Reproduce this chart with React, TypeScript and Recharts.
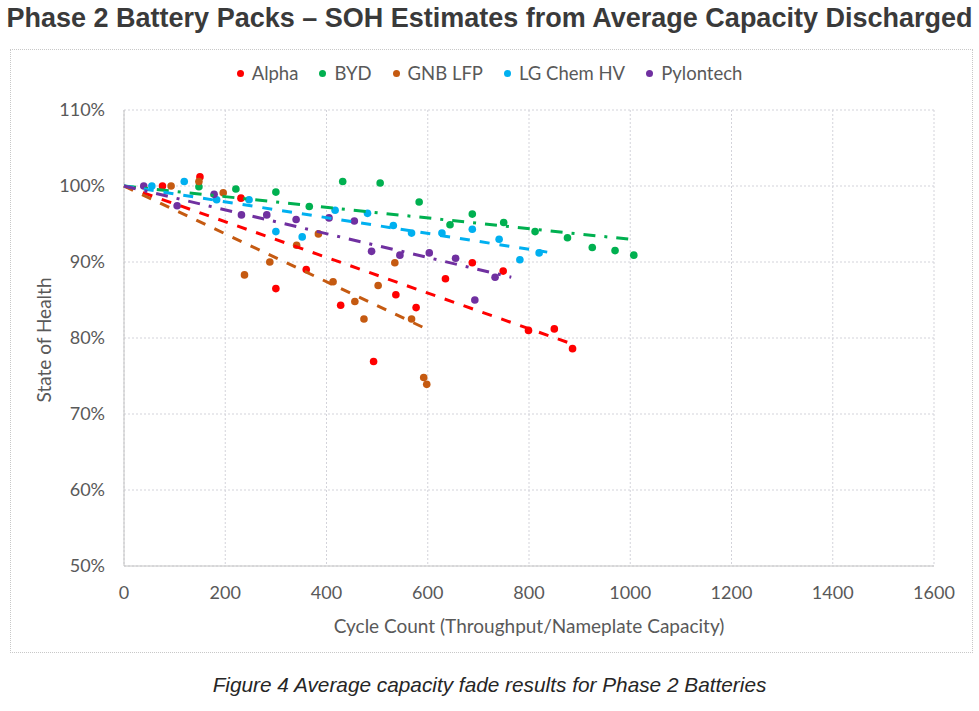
import { ScatterChart, Scatter, XAxis, YAxis, CartesianGrid } from 'recharts';

const X_TICKS = [0, 200, 400, 600, 800, 1000, 1200, 1400, 1600];
const Y_TICKS = [50, 60, 70, 80, 90, 100, 110];

const SERIES_NAMES = ['Alpha', 'BYD', 'GNB LFP', 'LG Chem HV', 'Pylontech'];
const SERIES_COLORS = ['#ff0000', '#00b050', '#c55a11', '#00b0f0', '#7030a0'];
const TREND_DASH = ['10 10', '12 9 3 9', '10 10', '10 10', '12 9 3 9'];

// cycle count / state of health (%) per pack
const alphaCycles = [76, 150, 231, 300, 360, 428, 493, 537, 577, 635, 688, 749, 799, 850, 886];
const alphaSoh = [100, 101.2, 98.4, 86.5, 89.0, 84.3, 76.9, 85.7, 84.0, 87.8, 89.9, 88.8, 81.0, 81.2, 78.6];

const bydCycles = [148, 221, 300, 366, 432, 506, 583, 644, 688, 750, 812, 876, 925, 970, 1007];
const bydSoh = [99.9, 99.6, 99.2, 97.3, 100.6, 100.4, 97.9, 94.9, 96.3, 95.2, 94.0, 93.2, 91.9, 91.5, 90.9];

const gnbCycles = [93, 148, 196, 238, 288, 341, 384, 413, 456, 474, 502, 535, 568, 592, 598];
const gnbSoh = [100, 100.6, 99.1, 88.3, 90.0, 92.2, 93.7, 87.4, 84.8, 82.5, 86.9, 89.9, 82.5, 74.8, 73.9];

const lgCycles = [55, 119, 183, 247, 300, 352, 417, 481, 532, 568, 628, 688, 741, 782, 820];
const lgSoh = [100, 100.6, 98.2, 98.2, 94.0, 93.3, 96.8, 96.4, 94.8, 93.8, 93.8, 94.3, 93.0, 90.3, 91.2];

const pylonCycles = [39, 105, 178, 232, 282, 340, 405, 455, 489, 545, 603, 655, 693, 733];
const pylonSoh = [100, 97.4, 98.9, 96.2, 96.2, 95.6, 95.8, 95.4, 91.4, 90.9, 91.2, 90.5, 85.0, 88.0];

// linear trendlines: all start at 0 cycles / 100 %
const trendStartCycle = 0;
const trendStartSoh = 100;
const trendEndCycles = [886, 1012, 594, 836, 765];
const trendEndSoh = [79.2, 92.9, 81.3, 91.3, 88.0];

const ALL_CYCLES = [alphaCycles, bydCycles, gnbCycles, lgCycles, pylonCycles];
const ALL_SOH = [alphaSoh, bydSoh, gnbSoh, lgSoh, pylonSoh];

const FONT = 'Lato, "Open Sans", sans-serif';
const TEXT_GREY = '#595959';

const toPoints = (xs: number[], ys: number[]) => xs.map((x, i) => ({ x, y: ys[i] }));

const makeDot = (color: string) => (props: any) => (
    <circle cx={props.cx} cy={props.cy} r={3.8} fill={color} />
);

const NoShape = () => <g />;

export default function App() {
    return (
        <div style={{ position: 'absolute', left: 0, top: 0, width: 979, height: 711, background: '#fff', fontFamily: FONT }}>
            {/* Title */}
            <div style={{
                position: 'absolute', left: 0, top: 3, width: 979, textAlign: 'center',
                fontFamily: '"Liberation Sans", Arial, sans-serif', fontWeight: 700, fontSize: 27,
                color: '#3a3a3a', whiteSpace: 'nowrap'
            }}>
                Phase 2 Battery Packs – SOH Estimates from Average Capacity Discharged
            </div>

            {/* Chart frame */}
            <div style={{
                position: 'absolute', left: 10, top: 49, width: 961, height: 602,
                border: '1px dotted #c8c8c8'
            }} />

            {/* Legend */}
            <div style={{
                position: 'absolute', left: 0, top: 62, width: 979, display: 'flex',
                justifyContent: 'center', gap: 21, fontSize: 18.5, color: TEXT_GREY
            }}>
                {SERIES_NAMES.map((name, i) => (
                    <span key={name} style={{ display: 'flex', alignItems: 'center' }}>
                        <span style={{
                            width: 7, height: 7, borderRadius: '50%', background: SERIES_COLORS[i],
                            display: 'inline-block', marginRight: 8
                        }} />
                        {name}
                    </span>
                ))}
            </div>

            {/* Y axis title */}
            <div style={{
                position: 'absolute', left: 43, top: 340, transform: 'translate(-50%, -50%) rotate(-90deg)',
                fontSize: 19, color: TEXT_GREY, whiteSpace: 'nowrap'
            }}>
                State of Health
            </div>

            <div style={{ position: 'absolute', left: 0, top: 0 }}>
                <ScatterChart
                    width={979}
                    height={711}
                    margin={{ top: 110, right: 45, bottom: 78, left: 64 }}
                >
                    <CartesianGrid stroke="#d3d3da" strokeDasharray="2 2" />
                    <XAxis
                        type="number"
                        dataKey="x"
                        domain={[0, 1600]}
                        ticks={X_TICKS}
                        height={67}
                        axisLine={{ stroke: '#c4c4c4' }}
                        tickLine={false}
                        tickSize={0}
                        tickMargin={20}
                        tick={{ fill: TEXT_GREY, fontSize: 18, fontFamily: FONT }}
                        label={{
                            value: 'Cycle Count (Throughput/Nameplate Capacity)',
                            position: 'insideBottom', offset: 0,
                            fill: TEXT_GREY, fontSize: 19, fontFamily: FONT
                        }}
                    />
                    <YAxis
                        type="number"
                        dataKey="y"
                        domain={[50, 110]}
                        ticks={Y_TICKS}
                        width={60}
                        axisLine={{ stroke: '#c4c4c4' }}
                        tickLine={false}
                        tickSize={0}
                        tickMargin={19}
                        tickFormatter={(v) => `${v}%`}
                        tick={{ fill: TEXT_GREY, fontSize: 18, fontFamily: FONT }}
                    />
                    {SERIES_NAMES.map((name, i) => (
                        <Scatter
                            key={name}
                            name={name}
                            data={toPoints(ALL_CYCLES[i], ALL_SOH[i])}
                            fill={SERIES_COLORS[i]}
                            shape={makeDot(SERIES_COLORS[i])}
                            isAnimationActive={false}
                        />
                    ))}
                    {SERIES_NAMES.map((name, i) => (
                        <Scatter
                            key={`trend-${name}`}
                            name={`Linear (${name})`}
                            data={[
                                { x: trendStartCycle, y: trendStartSoh },
                                { x: trendEndCycles[i], y: trendEndSoh[i] },
                            ]}
                            line={{ stroke: SERIES_COLORS[i], strokeWidth: 3, strokeDasharray: TREND_DASH[i] }}
                            shape={NoShape}
                            legendType="none"
                            isAnimationActive={false}
                        />
                    ))}
                </ScatterChart>
            </div>

            {/* Caption */}
            <div style={{
                position: 'absolute', left: 0, top: 673, width: 979, textAlign: 'center',
                fontFamily: '"Liberation Sans", Arial, sans-serif', fontStyle: 'italic', fontSize: 20.8,
                color: '#262626', whiteSpace: 'nowrap'
            }}>
                Figure 4 Average capacity fade results for Phase 2 Batteries
            </div>
        </div>
    );
}
